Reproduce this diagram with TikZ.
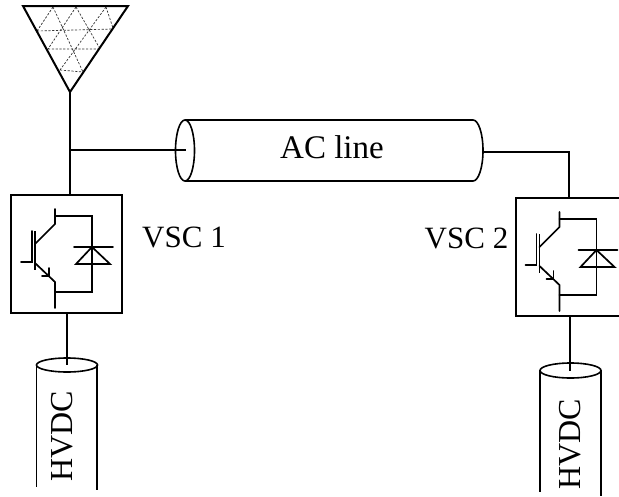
\documentclass[tikz,border=0pt]{standalone}
\usepackage{fontspec}
\setmainfont{Liberation Serif}
\tikzset{
  wire/.style={line width=1.7pt,line cap=round,line join=miter,black},
  thinwire/.style={line width=1.6pt,line cap=butt,black},
  mesh/.style={line width=0.7pt,dashed,dash pattern=on 2.2pt off 1.6pt,black!80},
  lbl/.style={inner sep=0pt,anchor=base,font=\fontsize{31}{31}\selectfont},
  vlbl/.style={inner sep=0pt,rotate=90,font=\fontsize{32}{32}\selectfont},
  conv/.style={draw,line width=1.7pt,rectangle,minimum width=111pt,minimum height=118pt,inner sep=0pt,fill=white},
  pics/igbt/.style={code={
    \draw[wire] (55,209) -- (55,224) -- (35,244);
    \draw[wire] (35,263) -- (55,282) -- (55,308);
    \draw[wire] (55,216) -- (92,216) -- (92,264);
    \draw[wire] (92,264) -- (92,292) -- (55,292);
    \draw[wire] (74,247) -- (113,247);
    \draw[wire] (92,247) -- (76,264) -- (110,264) -- cycle;
    \draw[line width=1.9pt] (35,231) -- (35,270);
    \draw[wire] (32,231) -- (32,262) -- (21,262);
    \draw[wire] (49,268) -- (49,276) -- (42,276);
  }}
}
\begin{document}
\begin{tikzpicture}[x=1pt,y=-1pt]
\useasboundingbox (0,0) rectangle (619,496);
\clip (0,0) rectangle (619,496);
\fill[white] (0,0) rectangle (619,496);

% antenna / wind-farm triangle
\coordinate (tl) at (23,6);
\coordinate (tr) at (128,6);
\coordinate (tb) at (70,92);
\draw[mesh] (53,7) -- (37,31) (53,7) -- (83,72) (76,7) -- (48,49) (76,7) -- (99,47)
  (106,7) -- (60,70) (106,7) -- (113,28)
  (37,31) -- (113,29) (48,49) -- (99,49) (60,70) -- (83,72);
\draw[wire,line width=2pt,line join=miter] (tl) -- (tr) -- (tb) -- cycle;

% converters
\node[conv] (box1) at (66.5,254) {};
\node[conv] (box2) at (571.5,257) {};
\pic at (0,0) {igbt};
\pic at (504.5,3) {igbt};

% AC line cable
\coordinate (acl) at (185,120);
\coordinate (acb) at (185,181);
\coordinate (acrt) at (473,120);
\coordinate (acrb) at (473,181);
\coordinate (acw) at (483,152);
\draw[thinwire] (acl) -- (acrt) arc[start angle=90,end angle=-90,x radius=10pt,y radius=30.5pt] -- (acb);
\draw[thinwire] (185,150.5) ellipse[x radius=9.5pt,y radius=30.5pt];
\node[lbl,font=\fontsize{33}{33}\selectfont] (acline) at (332,158) {AC line};

% connectors
\coordinate (st) at (70,195);
\coordinate (jn) at (70,150);
\coordinate (acin) at (186,150);
\draw[wire] (tb) -- (st);
\draw[thinwire] (jn) -- (acin);
\coordinate (b2in) at (569,198);
\draw[thinwire] (acw) -- (569,152) -- (b2in);

% HVDC cable 1
\coordinate (c1) at (67,365);
\draw[thinwire] (67,313) -- (c1);
\draw[thinwire] (c1) ellipse[x radius=30.5pt,y radius=7pt];
\draw[thinwire] (36.5,365) -- (36.5,487);
\draw[thinwire] (97,365) -- (97,490);
\node[vlbl] (h1) at (62.5,436) {HVDC};

% HVDC cable 2
\coordinate (c2) at (570.5,370.5);
\draw[thinwire] (570,316) -- (570,371);
\draw[thinwire] (c2) ellipse[x radius=30.5pt,y radius=7.5pt];
\draw[thinwire] (540,370.5) -- (540,492);
\draw[thinwire] (601,370.5) -- (601,496);
\node[vlbl] (h2) at (570.5,444.5) {HVDC};

% labels
\node[lbl] (v1) at (184,247) {VSC 1};
\node[lbl] (v2) at (466.5,248) {VSC 2};
\end{tikzpicture}
\end{document}
